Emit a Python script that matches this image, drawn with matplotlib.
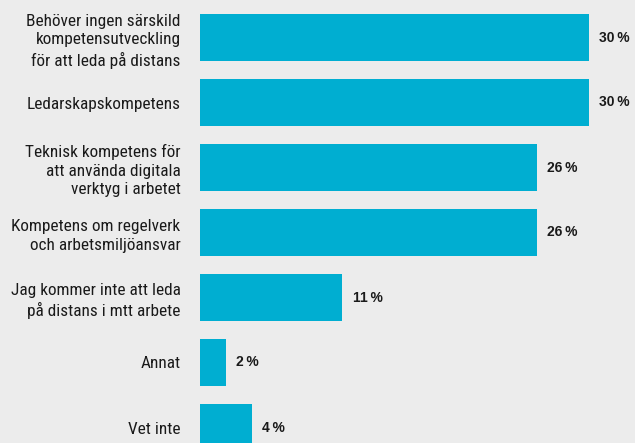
import matplotlib.pyplot as plt

categories = [
    "Behöver ingen särskild\nkompetensutveckling\nför att leda på distans",
    "Ledarskapskompetens",
    "Teknisk kompetens för\natt använda digitala\nverktyg i arbetet",
    "Kompetens om regelverk\noch arbetsmiljöansvar",
    "Jag kommer inte att leda\npå distans i mtt arbete",
    "Annat",
    "Vet inte",
]
values = [30, 30, 26, 26, 11, 2, 4]

bg = "#ececec"
bar_color = "#00aed1"

fig = plt.figure(figsize=(6.35, 4.43), dpi=100, facecolor=bg)
ax = fig.add_axes([200 / 635, 0, 435 / 635, 1])
ax.set_facecolor(bg)

pos = list(range(len(values)))
ax.barh(pos, values, height=0.723, color=bar_color)

ax.set_xlim(0, 435 / 12.95)
ax.set_ylim((443 - 37.5) / 65, -37.5 / 65)

ax.set_yticks(pos)
ax.set_yticklabels(categories, family=["Roboto Condensed", "DejaVu Sans"],
                   fontsize=12.4, color="#1a1a1a", linespacing=1.3)
ax.tick_params(axis="y", length=0, pad=14)
ax.set_xticks([])
for s in ax.spines.values():
    s.set_visible(False)

for p, v in zip(pos, values):
    ax.annotate(f"{v}\u2009%", (v, p), xytext=(7.5, 0), textcoords="offset points",
                ha="left", va="center", fontsize=10, fontweight="bold",
                family=["Liberation Sans", "DejaVu Sans"], color="#1a1a1a")

fig.savefig("out.png", dpi=100, facecolor=bg)
